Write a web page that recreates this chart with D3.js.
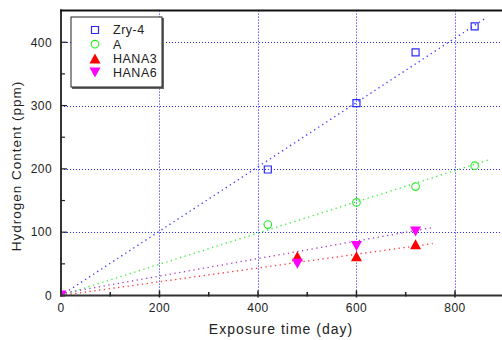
<!DOCTYPE html>
<html>
<head>
<meta charset="utf-8">
<script src="https://cdn.jsdelivr.net/npm/d3@7"></script>
<style>
body { margin: 0; background: #fff; }
text { font-family: Arial, "Liberation Sans", sans-serif; fill: #222; }
</style>
</head>
<body>
<svg id="chart"></svg>
<script>
let svgWidth = 502
let svgHeight = 340

// exposure time (day) vs hydrogen content (ppm)
const zryDays = [0, 420, 600, 720, 840]
const zryH = [0, 199, 304, 384, 425]
const aDays = [0, 420, 600, 720, 840]
const aH = [0, 112, 147, 172, 205]
const hana3Days = [0, 480, 600, 720]
const hana3H = [0, 62, 62, 81]
const hana6Days = [0, 480, 600, 720]
const hana6H = [0, 50, 78, 101]

// dotted fit lines, [start, end]
const zryFit = [[0, 0], [864, 439]]
const aFit = [[0, 0], [868, 214]]
const hana3Fit = [[0, 0], [755, 82]]
const hana6Fit = [[0, 3], [752, 107]]

const xTicks = [0, 200, 400, 600, 800]
const xMinor = [100, 300, 500, 700]
const yTicks = [0, 100, 200, 300, 400]
const yMinor = [50, 150, 250, 350]
const legendNames = ['Zry-4', 'A', 'HANA3', 'HANA6']

let margin = {left: 61, top: 10.6, right: 0, bottom: 44.5}

let x = d3.scaleLinear().domain([0, 900]).range([margin.left, 504.2])
let y = d3.scaleLinear().domain([0, 450]).range([svgHeight - margin.bottom, margin.top])

let svg = d3.select('#chart')
    .attr('width', svgWidth)
    .attr('height', svgHeight)

svg.append('clipPath').attr('id', 'plot')
    .append('rect')
    .attr('x', x(0)).attr('y', y(450))
    .attr('width', x(900) - x(0)).attr('height', y(0) - y(450) + 1)

// grid
let grid = svg.append('g')
grid.selectAll('.vg').data(xTicks.slice(1))
    .enter().append('line')
    .attr('x1', d => Math.round(x(d)) + 0.5).attr('x2', d => Math.round(x(d)) + 0.5)
    .attr('y1', y(450)).attr('y2', y(0))
    .attr('stroke', '#1010ff').attr('stroke-width', 1).attr('stroke-dasharray', '1,2')
grid.selectAll('.hg').data(yTicks.slice(1))
    .enter().append('line')
    .attr('y1', d => Math.round(y(d)) + 0.5).attr('y2', d => Math.round(y(d)) + 0.5)
    .attr('x1', x(0)).attr('x2', x(900))
    .attr('stroke', '#2a2aff').attr('stroke-width', 1).attr('stroke-dasharray', '1,2')

// fit lines
let fits = [
    {pts: zryFit, color: '#3a3aff'},
    {pts: aFit, color: '#33ee33'},
    {pts: hana6Fit, color: '#a040c0'},
    {pts: hana3Fit, color: '#ff3333'}
]
let lineGen = d3.line().x(d => x(d[0])).y(d => y(d[1]))
svg.append('g').selectAll('path').data(fits)
    .enter().append('path')
    .attr('d', d => lineGen(d.pts))
    .attr('fill', 'none')
    .attr('stroke', d => d.color)
    .attr('stroke-width', 1.3)
    .attr('stroke-dasharray', '1.3,3.5')

// marker shapes
function square(s) { return `M${-s},${-s}H${s}V${s}H${-s}Z` }
function triUp(w, h) { return `M0,${-h}L${w},${h}L${-w},${h}Z` }
function triDown(w, h) { return `M0,${h}L${w},${-h}L${-w},${-h}Z` }

let series = [
    {days: zryDays, vals: zryH, kind: 'square'},
    {days: aDays, vals: aH, kind: 'circle'},
    {days: hana3Days, vals: hana3H, kind: 'up'},
    {days: hana6Days, vals: hana6H, kind: 'down'}
]

function drawMarker(sel, kind) {
    if (kind == 'square') {
        sel.append('path').attr('d', square(3.5))
            .attr('fill', 'none').attr('stroke', '#2a2aff').attr('stroke-width', 1.2)
    } else if (kind == 'circle') {
        sel.append('circle').attr('r', 3.8)
            .attr('fill', 'none').attr('stroke', '#22ee22').attr('stroke-width', 1.1)
    } else if (kind == 'up') {
        sel.append('path').attr('d', triUp(5.5, 5)).attr('fill', '#ff0000')
    } else {
        sel.append('path').attr('d', triDown(5.5, 5)).attr('fill', '#ff00ff')
    }
}

let markers = svg.append('g').attr('clip-path', 'url(#plot)')
series.forEach(function(s){
    s.days.forEach(function(d, i){
        let m = markers.append('g')
            .attr('transform', `translate(${x(d)},${y(s.vals[i])})`)
        drawMarker(m, s.kind)
    })
})

// axes frame
svg.append('line')
    .attr('x1', x(0)).attr('x2', x(0)).attr('y1', y(450) - 1).attr('y2', y(0) + 1)
    .attr('stroke', '#333').attr('stroke-width', 2)
svg.append('line')
    .attr('x1', x(0) - 1).attr('x2', svgWidth).attr('y1', y(0)).attr('y2', y(0))
    .attr('stroke', '#333').attr('stroke-width', 2)
svg.append('line')
    .attr('x1', x(0) - 1).attr('x2', svgWidth).attr('y1', y(450)).attr('y2', y(450))
    .attr('stroke', '#111').attr('stroke-width', 2)

// ticks
svg.selectAll('.xt').data(xTicks.slice(1))
    .enter().append('line')
    .attr('x1', d => x(d)).attr('x2', d => x(d))
    .attr('y1', y(0) - 5).attr('y2', y(0) + 2)
    .attr('stroke', '#222').attr('stroke-width', 1.5)
svg.selectAll('.xm').data(xMinor)
    .enter().append('line')
    .attr('x1', d => x(d)).attr('x2', d => x(d))
    .attr('y1', y(0) - 3.5).attr('y2', y(0) + 1)
    .attr('stroke', '#222').attr('stroke-width', 1.5)
svg.selectAll('.yt').data(yTicks.slice(1))
    .enter().append('line')
    .attr('y1', d => y(d)).attr('y2', d => y(d))
    .attr('x1', x(0)).attr('x2', x(0) + 6)
    .attr('stroke', '#222').attr('stroke-width', 1.2)
svg.selectAll('.ym').data(yMinor)
    .enter().append('line')
    .attr('y1', d => y(d)).attr('y2', d => y(d))
    .attr('x1', x(0)).attr('x2', x(0) + 4)
    .attr('stroke', '#222').attr('stroke-width', 1.2)

// tick labels
svg.selectAll('.xl').data(xTicks)
    .enter().append('text')
    .attr('x', d => x(d)).attr('y', 312)
    .attr('text-anchor', 'middle')
    .style('font-size', '12px').style('letter-spacing', '0.4px')
    .text(d => d)
svg.selectAll('.yl').data(yTicks)
    .enter().append('text')
    .attr('x', 52).attr('y', d => y(d) + 4.3)
    .attr('text-anchor', 'end')
    .style('font-size', '12px').style('letter-spacing', '0.4px')
    .text(d => d)

// axis titles
svg.append('text')
    .attr('x', 281).attr('y', 334)
    .attr('text-anchor', 'middle')
    .style('font-size', '14px').style('letter-spacing', '1px')
    .text('Exposure time (day)')
svg.append('text')
    .attr('transform', 'translate(21,166) rotate(-90)')
    .attr('text-anchor', 'middle')
    .style('font-size', '13.5px').style('letter-spacing', '1px')
    .text('Hydrogen Content (ppm)')

// legend
let leg = svg.append('g')
leg.append('rect')
    .attr('x', 72).attr('y', 18).attr('width', 92).attr('height', 71)
    .attr('fill', '#666')
leg.append('rect')
    .attr('x', 71).attr('y', 17).attr('width', 91).attr('height', 70)
    .attr('fill', '#fff').attr('stroke', '#222').attr('stroke-width', 1)
legendNames.forEach(function(name, i){
    let row = leg.append('g').attr('transform', `translate(95,${30 + i * 14.2})`)
    drawMarker(row, series[i].kind)
    row.append('text')
        .attr('x', 18).attr('y', 4.3)
        .style('font-size', '12.5px').style('letter-spacing', '0.5px')
        .text(name)
})
</script>
</body>
</html>
